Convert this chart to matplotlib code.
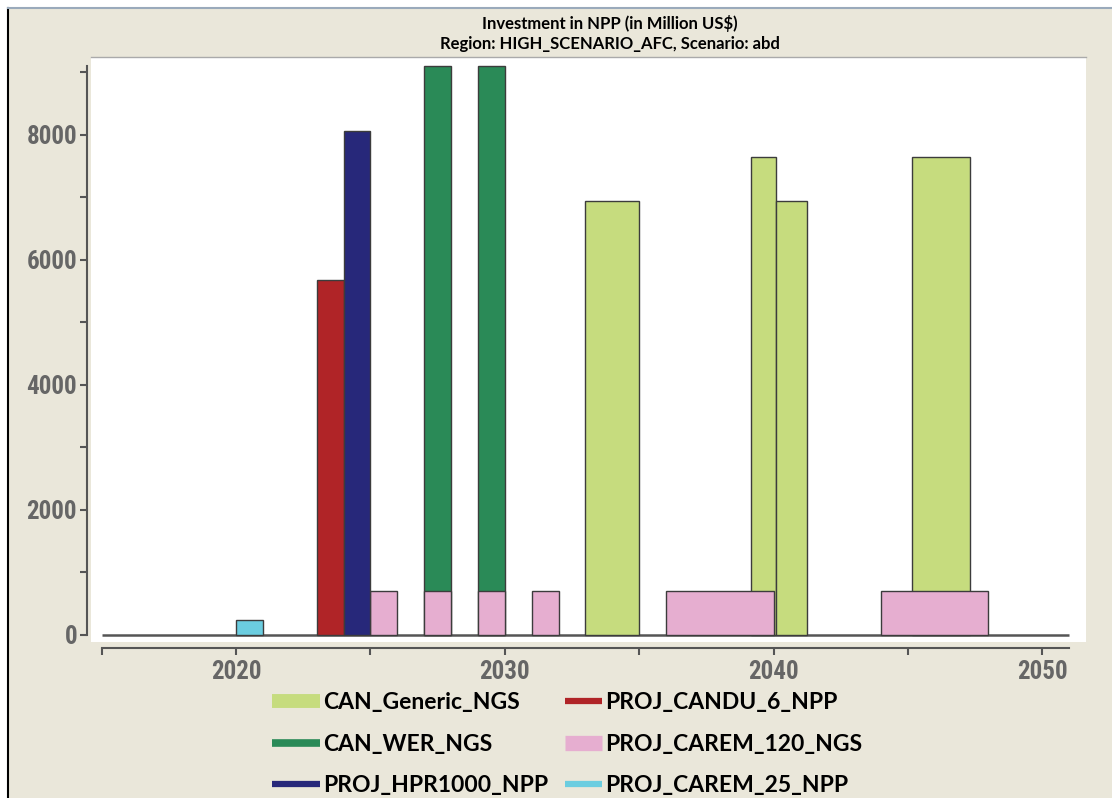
import matplotlib
matplotlib.use("Agg")
import matplotlib.pyplot as plt
from matplotlib.lines import Line2D
from matplotlib.patches import Rectangle

# bar data: left edge (year), width (years), value (Million US$)
generic_x = [2033, 2039.15, 2040.1, 2045.15]
generic_w = [2, 0.95, 1.15, 2.15]
generic_v = [6930, 7640, 6930, 7640]

wer_x = [2027, 2029]
wer_w = [1, 1]
wer_v = [9100, 9100]

carem120_x = [2025, 2027, 2029, 2031, 2036, 2044]
carem120_w = [1, 1, 1, 1, 4, 4]
carem120_v = [700, 700, 700, 700, 700, 700]

carem25_x = [2020]
carem25_w = [1]
carem25_v = [240]

candu6_x = [2023]
candu6_w = [1]
candu6_v = [5680]

hpr1000_x = [2024]
hpr1000_w = [1]
hpr1000_v = [8060]

col_generic = "#C6DC7E"
col_wer = "#2A8A57"
col_hpr = "#27287A"
col_candu = "#B02427"
col_c120 = "#E6AED0"
col_c25 = "#6BCDE0"

tick_font = ["Roboto Condensed", "Roboto", "DejaVu Sans"]
legend_font = ["Lato", "DejaVu Sans"]

W, H = 1112, 798
fig = plt.figure(figsize=(W / 100, H / 100), dpi=100, facecolor="white")

## screenshot frame ##
fig.patches.append(Rectangle((8 / W, 0), 1, 1 - 8 / H, transform=fig.transFigure,
                             facecolor="#EAE7DA", edgecolor="none", zorder=-10))
fig.lines.append(Line2D([8 / W, 8 / W], [0, 1 - 8 / H], transform=fig.transFigure,
                        color="black", lw=1.5, zorder=-5))
fig.lines.append(Line2D([8 / W, 1], [1 - 8 / H, 1 - 8 / H], transform=fig.transFigure,
                        color="#9AAABB", lw=1.5, zorder=-5))

ax = fig.add_axes([91 / W, 1 - 642 / H, (1086 - 91) / W, (642 - 57) / H])
ax.set_facecolor("white")

## bars ##
edge = dict(edgecolor="#3C3C3C", linewidth=1.0, align="edge")
ax.bar(generic_x, generic_v, width=generic_w, color=col_generic, zorder=2, **edge)
ax.bar(wer_x, wer_v, width=wer_w, color=col_wer, zorder=2, **edge)
ax.bar(carem120_x, carem120_v, width=carem120_w, color=col_c120, zorder=3, **edge)
ax.bar(carem25_x, carem25_v, width=carem25_w, color=col_c25, zorder=3, **edge)
ax.bar(candu6_x, candu6_v, width=candu6_w, color=col_candu, zorder=3, **edge)
ax.bar(hpr1000_x, hpr1000_v, width=hpr1000_w, color=col_hpr, zorder=3, **edge)
ax.hlines(0, 2015, 2051, color="#555555", lw=1.8, zorder=1.5)

## axes ##
ax.set_xlim(2014.6, 2051.63)
ax.set_ylim(-120, 9240)
ax.spines["right"].set_visible(False)
ax.spines["top"].set_color("#AAAAAA")
ax.spines["top"].set_linewidth(1.0)
ax.spines["left"].set_position(("outward", 3))
ax.spines["left"].set_bounds(0, 9100)
ax.spines["bottom"].set_position(("outward", 4.5))
ax.spines["bottom"].set_bounds(2015, 2051)
for s in ("left", "bottom"):
    ax.spines[s].set_color("#555555")
    ax.spines[s].set_linewidth(1.5)

ax.set_xticks([2020, 2030, 2040, 2050])
ax.set_xticks([2015, 2025, 2035, 2045], minor=True)
ax.set_yticks([0, 2000, 4000, 6000, 8000])
ax.set_yticks([1000, 3000, 5000, 7000, 9000], minor=True)
ax.tick_params(which="both", direction="out", length=5, width=1.5, color="#555555")
ax.tick_params(axis="y", pad=2)
ax.tick_params(axis="x", pad=3.5)
for lab in ax.get_xticklabels() + ax.get_yticklabels():
    lab.set_family(tick_font)
    lab.set_stretch("condensed")
    lab.set_fontweight("bold")
    lab.set_fontsize(18)
    lab.set_color("#666666")

## title ##
fig.text(610 / W, 1 - 24 / H, "Investment in NPP (in Million US$)", ha="center", va="center",
         fontsize=12, fontweight="bold", family=legend_font)
fig.text(610 / W, 1 - 44 / H, "Region: HIGH_SCENARIO_AFC, Scenario: abd", ha="center", va="center",
         fontsize=12, fontweight="bold", family=legend_font)

## legend ##
def handle(c, lw):
    return Line2D([], [], color=c, lw=lw, solid_capstyle="butt")

leg_kw = dict(loc="upper left", frameon=False, borderpad=0, borderaxespad=0,
              handletextpad=0.15, labelspacing=0.9,
              prop=dict(family=legend_font, weight="bold", size=16.5))
leg1 = fig.legend([handle(col_generic, 10), handle(col_wer, 5.5), handle(col_hpr, 4.5)],
                  ["CAN_Generic_NGS", "CAN_WER_NGS", "PROJ_HPR1000_NPP"],
                  bbox_to_anchor=(272 / W, 1 - 692 / H), handlelength=2.1, **leg_kw)
leg2 = fig.legend([handle(col_candu, 4.5), handle(col_c120, 11), handle(col_c25, 4.5)],
                  ["PROJ_CANDU_6_NPP", "PROJ_CAREM_120_NGS", "PROJ_CAREM_25_NPP"],
                  bbox_to_anchor=(565 / W, 1 - 692 / H), handlelength=1.6, **leg_kw)

fig.savefig("out.png", dpi=100, facecolor=fig.get_facecolor())
